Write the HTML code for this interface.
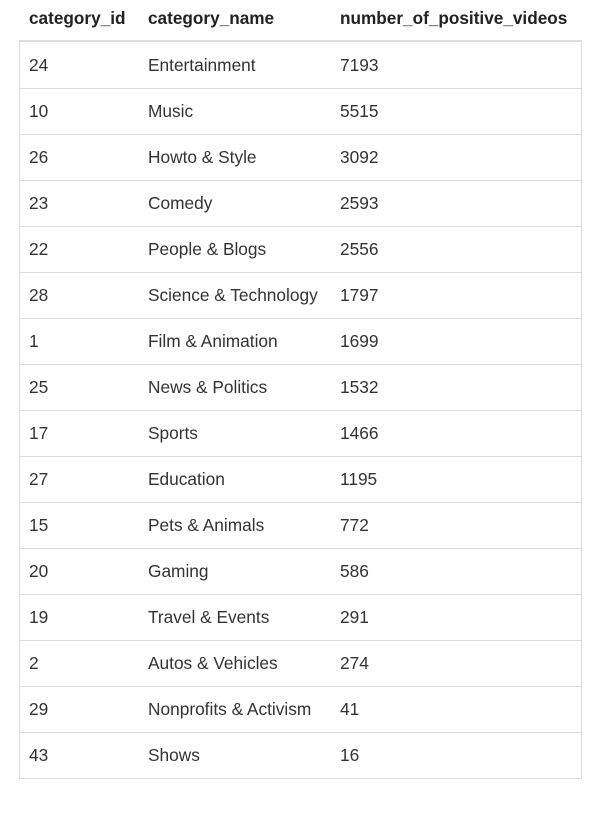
<!DOCTYPE html>
<html><head><meta charset="utf-8"><style>
body{margin:0;background:#fff;font-family:"Liberation Sans",Arial,sans-serif;color:#333;width:608px;height:825px;overflow:hidden}
.hdr{position:absolute;top:0;left:19px;width:563px;height:40px;border-bottom:2px solid #ddd;font-weight:bold;font-size:17.2px;color:#222}
.hdr span,.row span{position:absolute;white-space:nowrap}
.body{position:absolute;top:42px;left:19px;width:561px;border:1px solid #ddd;border-top:none}
.row{position:relative;height:45px;border-top:1px solid #ddd;font-size:17.3px}
.row:first-child{border-top:none;height:46px}
.c1{left:10px}.c2{left:129px}.c3{left:321px}
.row .c1{left:9px}.row .c2{left:128px}.row .c3{left:320px}
</style></head><body>
<div class="hdr">
<span class="c1" style="top:8px">category_id</span>
<span class="c2" style="top:8px">category_name</span>
<span class="c3" style="top:8px">number_of_positive_videos</span>
</div>
<div class="body" id="tb"></div>
<script>
const ids=[24,10,26,23,22,28,1,25,17,27,15,20,19,2,29,43];
const names=["Entertainment","Music","Howto & Style","Comedy","People & Blogs","Science & Technology","Film & Animation","News & Politics","Sports","Education","Pets & Animals","Gaming","Travel & Events","Autos & Vehicles","Nonprofits & Activism","Shows"];
const counts=[7193,5515,3092,2593,2556,1797,1699,1532,1466,1195,772,586,291,274,41,16];
const tb=document.getElementById('tb');
ids.forEach((id,i)=>{
  const r=document.createElement('div');r.className='row';
  
  
  const top=i===0?13:12;
  [[id,'c1','cell-category-id'],[names[i],'c2','cell-category-name'],[counts[i],'c3','cell-count']].forEach(([t,c,n])=>{
    const s=document.createElement('span');s.className=c;s.style.top=top+'px';s.textContent=t;
    
    
    r.appendChild(s);
  });
  tb.appendChild(r);
});
</script>
</body></html>
